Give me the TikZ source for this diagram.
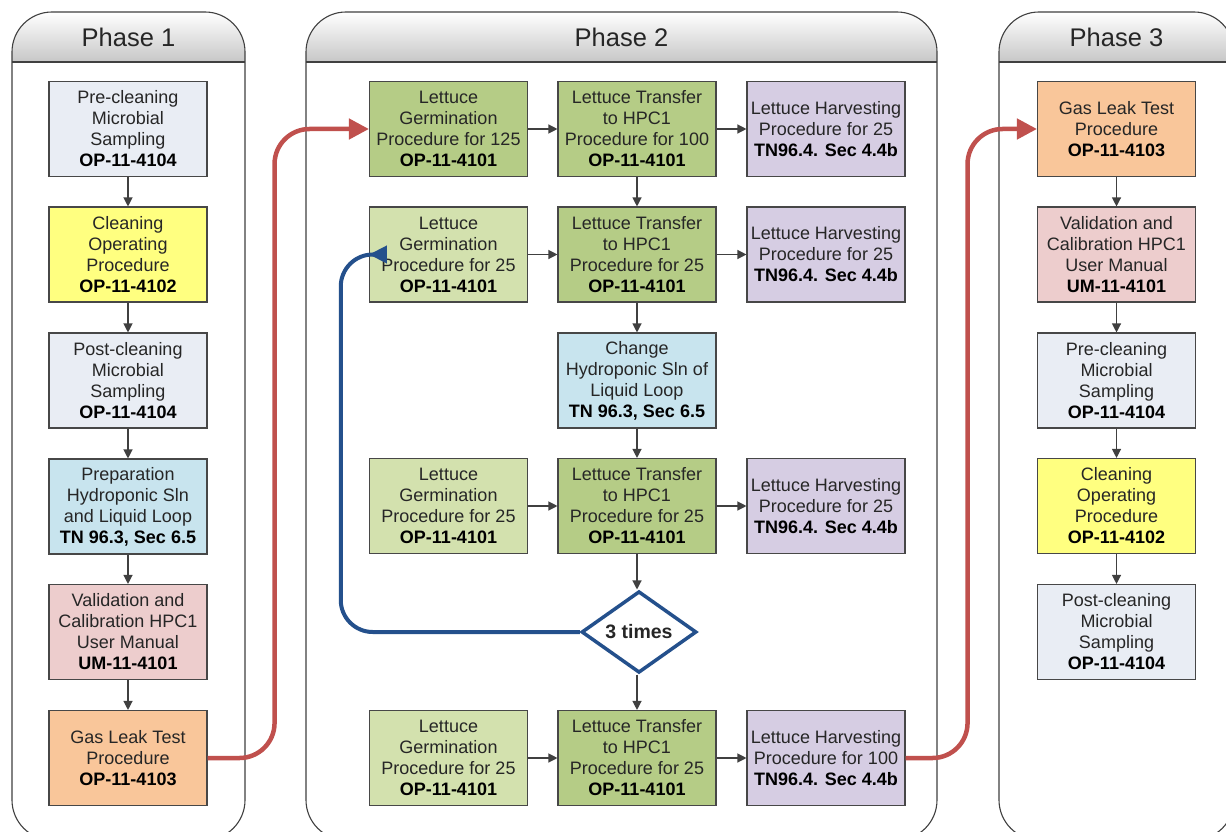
\documentclass[tikz,border=0pt]{standalone}
\usepackage{fontspec}
\setmainfont{Liberation Sans}
\usetikzlibrary{shapes.geometric,arrows.meta,calc}
\definecolor{cgray}{HTML}{E9EDF4}
\definecolor{cyellow}{HTML}{FFFF80}
\definecolor{ccyan}{HTML}{C8E4EE}
\definecolor{cpink}{HTML}{EDCDCD}
\definecolor{cpeach}{HTML}{F9C69A}
\definecolor{clgreen}{HTML}{D3E1AE}
\definecolor{cdgreen}{HTML}{B5CC86}
\definecolor{clav}{HTML}{D6CDE3}
\definecolor{cred}{HTML}{C0504D}
\definecolor{cblue}{HTML}{24508C}
\newcommand\phaseframe[4]{%
  \begin{scope}
    \clip[rounded corners=40pt] (#1,12) rectangle (#2,840);
    \foreach \i in {0,...,49} {
      \pgfmathsetmacro\pct{\i*0.44}
      \fill[black!\pct] (#1,12+\i) rectangle (#2,13.2+\i);
    }
  \end{scope}
  \draw[frame,rounded corners=40pt] (#1,12) rectangle (#2,840);
  \draw[frame] (#1,62) -- (#2,62);
  \node[phasetitle] (#4) at ({(#1+#2)/2},37) {#3};
}
\begin{document}
\begin{tikzpicture}[x=1pt,y=-1pt,
  frame/.style={draw=black!75,line width=1.1pt},
  phasetitle/.style={text=black!85,font=\fontsize{25.5}{30}\selectfont},
  box/.style={draw=black!72,line width=1.1pt,minimum width=158pt,minimum height=95pt,
    inner sep=2pt,align=center,text=black!85,font=\fontsize{18}{21}\selectfont},
  arr/.style={draw=black!75,line width=1.2pt,-{Triangle[length=9pt,width=9pt]}},
  redc/.style={draw=cred,line width=4.5pt,rounded corners=35pt,-{Triangle[length=20pt,width=20pt]}},
  bluec/.style={draw=cblue,line width=4pt,rounded corners=32pt,-{Triangle[length=18pt,width=17pt]}}]
\useasboundingbox (0,0) rectangle (1226,832);
\fill[white] (0,0) rectangle (1226,832);

\phaseframe{12}{245}{Phase 1}{ph1}
\phaseframe{306}{937}{Phase 2}{ph2}
\phaseframe{999}{1234}{Phase 3}{ph3}

% Phase 1
\node[box,fill=cgray] (a1) at (128,129) {Pre-cleaning\\Microbial\\Sampling\\\textbf{\color{black}OP-11-4104}};
\node[box,fill=cyellow] (a2) at (128,254.5) {Cleaning\\Operating\\Procedure\\\textbf{\color{black}OP-11-4102}};
\node[box,fill=cgray] (a3) at (128,380.5) {Post-cleaning\\Microbial\\Sampling\\\textbf{\color{black}OP-11-4104}};
\node[box,fill=ccyan] (a4) at (128,506.5) {Preparation\\Hydroponic Sln\\and Liquid Loop\\\textbf{\color{black}TN 96.3, Sec 6.5}};
\node[box,fill=cpink] (a5) at (128,632) {Validation and\\Calibration HPC1\\User Manual\\\textbf{\color{black}UM-11-4101}};
\node[box,fill=cpeach] (a6) at (128,758) {Gas Leak Test\\Procedure\\\textbf{\color{black}OP-11-4103}};
\foreach \u/\v in {a1/a2,a2/a3,a3/a4,a4/a5,a5/a6} \draw[arr] (\u) -- (\v);

% Phase 2
\node[box,fill=cdgreen] (g1) at (448.5,129) {Lettuce\\Germination\\Procedure for 125\\\textbf{\color{black}OP-11-4101}};
\node[box,fill=cdgreen] (t1) at (637,129) {Lettuce Transfer\\to HPC1\\Procedure for 100\\\textbf{\color{black}OP-11-4101}};
\node[box,fill=clav] (h1) at (826,129) {Lettuce Harvesting\\Procedure for 25\\\textbf{\color{black}TN96.4. Sec 4.4b}};

\node[box,fill=clgreen] (g2) at (448.5,254.5) {Lettuce\\Germination\\Procedure for 25\\\textbf{\color{black}OP-11-4101}};
\node[box,fill=cdgreen] (t2) at (637,254.5) {Lettuce Transfer\\to HPC1\\Procedure for 25\\\textbf{\color{black}OP-11-4101}};
\node[box,fill=clav] (h2) at (826,254.5) {Lettuce Harvesting\\Procedure for 25\\\textbf{\color{black}TN96.4. Sec 4.4b}};

\node[box,fill=ccyan] (c3) at (637,380.5) {Change\\Hydroponic Sln of\\Liquid Loop\\\textbf{\color{black}TN 96.3, Sec 6.5}};

\node[box,fill=clgreen] (g4) at (448.5,506) {Lettuce\\Germination\\Procedure for 25\\\textbf{\color{black}OP-11-4101}};
\node[box,fill=cdgreen] (t4) at (637,506) {Lettuce Transfer\\to HPC1\\Procedure for 25\\\textbf{\color{black}OP-11-4101}};
\node[box,fill=clav] (h4) at (826,506) {Lettuce Harvesting\\Procedure for 25\\\textbf{\color{black}TN96.4. Sec 4.4b}};

\node[diamond,draw=cblue,line width=3.5pt,fill=white,minimum width=115pt,minimum height=70pt,
  inner sep=0pt,font=\fontsize{19.5}{22}\selectfont\bfseries,text=black!85] (d) at (639,632) {3 times};

\node[box,fill=clgreen] (g5) at (448.5,758) {Lettuce\\Germination\\Procedure for 25\\\textbf{\color{black}OP-11-4101}};
\node[box,fill=cdgreen] (t5) at (637,758) {Lettuce Transfer\\to HPC1\\Procedure for 25\\\textbf{\color{black}OP-11-4101}};
\node[box,fill=clav] (h5) at (826,758) {Lettuce Harvesting\\Procedure for 100\\\textbf{\color{black}TN96.4. Sec 4.4b}};

\foreach \u/\v in {g1/t1,t1/h1,g2/t2,t2/h2,g4/t4,t4/h4,g5/t5,t5/h5,t1/t2,t2/c3,c3/t4}
  \draw[arr] (\u) -- (\v);
\draw[arr] (t4.south) -- (t4.south |- d.north);
\draw[arr] (t5.north |- d.south) -- (t5.north);

% Phase 3
\node[box,fill=cpeach] (b1) at (1116.5,129) {Gas Leak Test\\Procedure\\\textbf{\color{black}OP-11-4103}};
\node[box,fill=cpink] (b2) at (1116.5,254.5) {Validation and\\Calibration HPC1\\User Manual\\\textbf{\color{black}UM-11-4101}};
\node[box,fill=cgray] (b3) at (1116.5,380.5) {Pre-cleaning\\Microbial\\Sampling\\\textbf{\color{black}OP-11-4104}};
\node[box,fill=cyellow] (b4) at (1116.5,506) {Cleaning\\Operating\\Procedure\\\textbf{\color{black}OP-11-4102}};
\node[box,fill=cgray] (b5) at (1116.5,632) {Post-cleaning\\Microbial\\Sampling\\\textbf{\color{black}OP-11-4104}};
\foreach \u/\v in {b1/b2,b2/b3,b3/b4,b4/b5} \draw[arr] (\u) -- (\v);

% long connectors
\draw[redc] (a6.east) -- ++(67,0) |- (g1.west);
\draw[redc] (h5.east) -- ++(62,0) |- (b1.west);
\draw[bluec] (d.west) -- ++(-239,0) |- (g2.west);
\end{tikzpicture}
\end{document}
